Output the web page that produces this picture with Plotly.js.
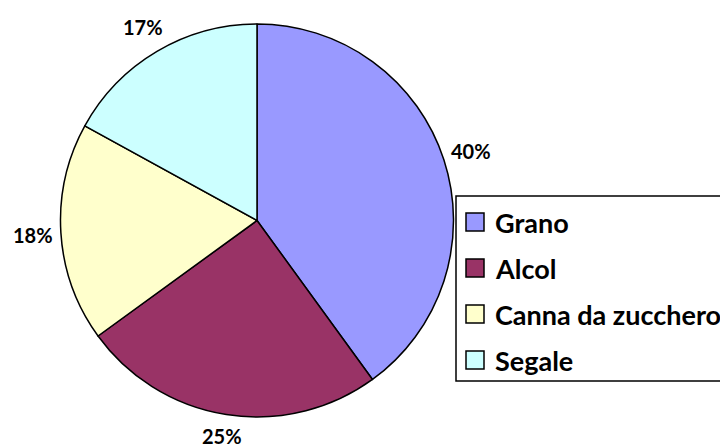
<!DOCTYPE html>
<html>
<head>
<meta charset="utf-8">
<script src="https://cdn.plot.ly/plotly-3.0.1.min.js"></script>
<style>html,body{margin:0;padding:0;background:#fff;}#chart{width:720px;height:448px;}</style>
</head>
<body>
<div id="chart"></div>
<script>
const categories = ["Grano", "Alcol", "Canna da zucchero", "Segale"];
const values = [40, 25, 18, 17];
const colors = ["#9999FF", "#993366", "#FFFFCC", "#CCFFFF"];

const W = 720, H = 448;
const px = x => x / W;
const py = y => 1 - y / H;

// pie geometry (pixels)
const cx = 257, cy = 220.5, R = 196.5, labelDist = R + 28;

const total = values.reduce((a, b) => a + b, 0);
const annotations = [];
let cum = 0;
values.forEach((v, i) => {
  const mid = (cum + v / 2) / total * 2 * Math.PI;
  cum += v;
  const lx = cx + labelDist * Math.sin(mid);
  const ly = Math.min(cy - labelDist * Math.cos(mid), H - 12);
  annotations.push({
    xref: "paper", yref: "paper", x: px(lx), y: py(ly),
    xanchor: "center", yanchor: "middle", showarrow: false,
    text: Math.round(v / total * 100) + "%",
    font: {family: "Lato, 'Open Sans', sans-serif", size: 20, color: "#000", weight: 700}
  });
});

// manual legend
const shapes = [{
  type: "rect", xref: "paper", yref: "paper",
  x0: px(456), x1: px(740), y0: py(196), y1: py(381),
  line: {color: "#000", width: 1.5}, fillcolor: "rgba(0,0,0,0)"
}];
const legY0 = 222, legStep = 46;
categories.forEach((c, i) => {
  const y = legY0 + i * legStep;
  shapes.push({
    type: "rect", xref: "paper", yref: "paper",
    x0: px(466), x1: px(484), y0: py(y - 9), y1: py(y + 9),
    line: {color: "#000", width: 1.5}, fillcolor: colors[i]
  });
  annotations.push({
    xref: "paper", yref: "paper", x: px(493), y: py(y),
    xanchor: "left", yanchor: "middle", showarrow: false,
    text: c,
    font: {family: "Lato, 'Open Sans', sans-serif", size: 27, color: "#000", weight: 700}
  });
});

const trace = {
  type: "pie",
  labels: categories,
  values: values,
  sort: false,
  direction: "clockwise",
  rotation: 0,
  marker: {colors: colors, line: {color: "#000", width: 1.5}},
  textinfo: "none",
  hoverinfo: "label+percent",
  domain: {x: [px(cx - R), px(cx + R)], y: [py(cy + R), py(cy - R)]},
  showlegend: false
};

const layout = {
  width: W, height: H,
  margin: {l: 0, r: 0, t: 0, b: 0},
  paper_bgcolor: "#fff", plot_bgcolor: "#fff",
  showlegend: false,
  annotations: annotations,
  shapes: shapes
};

Plotly.newPlot("chart", [trace], layout, {displayModeBar: false, staticPlot: true});
</script>
</body>
</html>
